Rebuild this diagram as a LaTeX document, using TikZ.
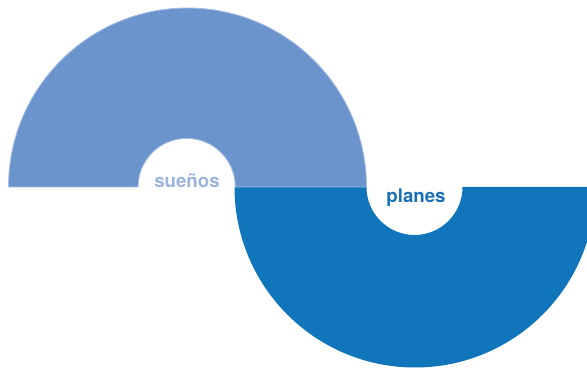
\documentclass[tikz,border=0pt]{standalone}
\usepackage{fontspec}
\setmainfont{TeX Gyre Heros}
\definecolor{upfill}{HTML}{6B93CC}
\definecolor{upline}{HTML}{A7BFE5}
\definecolor{lowfill}{HTML}{1175BB}
\definecolor{suenoscol}{HTML}{9AB4DD}
\definecolor{planescol}{HTML}{1A70B5}
\tikzset{
  lbl/.style={font=\fontsize{18.7}{20}\selectfont\bfseries, inner sep=0pt, anchor=base}
}
\begin{document}
\begin{tikzpicture}[x=1pt,y=1pt]
\useasboundingbox (0,0) rectangle (587,370);
\clip (0,0) rectangle (587,370);
% lower half ring
\fill[lowfill] (234.5,183) arc[start angle=180,end angle=360,radius=180.5]
  -- (462.5,183) arc[start angle=0,end angle=-180,radius=48] -- cycle;
% upper half ring
\filldraw[fill=upfill,draw=upline,line width=0.9pt] (8.5,183) arc[start angle=180,end angle=0,radius=179]
  -- (235.3,183) arc[start angle=0,end angle=180,radius=48.6] -- cycle;
\node[lbl,text=suenoscol] (suenos) at (187,182.8) {sueños};
\node[lbl,text=planescol] (planes) at (416,167.8) {planes};
\end{tikzpicture}
\end{document}
